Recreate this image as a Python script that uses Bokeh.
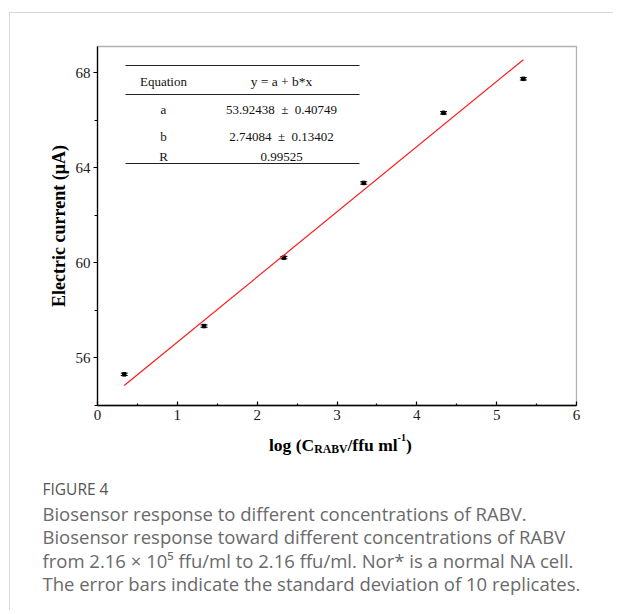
from bokeh.plotting import figure
from bokeh.models import (Label, PolyAnnotation, BoxAnnotation, FixedTicker, Whisker,
                          ColumnDataSource, TeeHead)
from bokeh.embed import file_html
from bokeh.resources import INLINE

# ---------------- data ----------------
log_conc = [0.3345, 1.3345, 2.3345, 3.3345, 4.3345, 5.3345]
current = [55.31, 57.34, 60.22, 63.36, 66.31, 67.74]
current_sd = [0.05, 0.05, 0.05, 0.05, 0.05, 0.05]

fit_a, fit_a_err = 53.92438, 0.40749
fit_b, fit_b_err = 2.74084, 0.13402
fit_r = 0.99525

x_ticks = [0, 1, 2, 3, 4, 5, 6]
y_ticks = [56, 60, 64, 68]
x_minor = [0.5, 1.5, 2.5, 3.5, 4.5, 5.5]
y_minor = [54, 58, 62, 66]
x_lim = (0, 6)
y_lim = (54, 69.1)

table_left = ["Equation", "a", "b", "R"]
table_right = ["y = a + b*x",
               f"{fit_a:.5f}\u2002\u00b1\u2002{fit_a_err:.5f}",
               f"{fit_b:.5f}\u2002\u00b1\u2002{fit_b_err:.5f}",
               f"{fit_r:.5f}"]

y_label = "Electric current (\u03bcA)"
x_label_parts = ["log (C", "RABV", "/ffu ml", "-1", ")"]

caption_title = "FIGURE 4"
caption_lines = [
    "Biosensor response to different concentrations of RABV.",
    "Biosensor response toward different concentrations of RABV",
    "from 2.16 \u00d7 10\u2075 ffu/ml to 2.16 ffu/ml. Nor* is a normal NA cell.",
    "The error bars indicate the standard deviation of 10 replicates.",
]

# ---------------- layout ----------------
W, H = 613, 610
BL, BR, BT, BB = 97, 576, 46, 405      # plot box in canvas px
KX = (x_lim[1] - x_lim[0]) / (BR - BL)
KY = (y_lim[1] - y_lim[0]) / (BB - BT)


def DX(px):  # canvas px -> data x
    return x_lim[0] + (px - BL) * KX


def DY(py):  # canvas px -> data y
    return y_lim[0] + (BB - py) * KY


p = figure(width=W, height=H, x_range=(DX(0), DX(W)), y_range=(DY(H), DY(0)),
           output_backend="svg", toolbar_location=None, min_border=0)
p.grid.visible = False
p.outline_line_color = None
p.background_fill_color = "white"
p.border_fill_color = "white"

# axes, pinned to the plot box
for ax in (p.xaxis[0], p.yaxis[0]):
    ax.axis_line_color = "black"
    ax.axis_line_width = 1.3
    ax.major_tick_line_color = "black"
    ax.minor_tick_line_color = "black"
    ax.major_tick_line_width = 1.2
    ax.minor_tick_line_width = 1.2
    ax.major_label_text_font = "Liberation Serif"
    ax.major_label_text_font_size = "15px"
    ax.major_label_text_color = "#1a1a1a"

p.xaxis.fixed_location = y_lim[0]
p.xaxis.bounds = x_lim
p.xaxis.ticker = FixedTicker(ticks=x_ticks, minor_ticks=x_minor)
p.xaxis.major_tick_in = 4
p.xaxis.major_tick_out = 0
p.xaxis.minor_tick_in = 2
p.xaxis.minor_tick_out = 0
p.xaxis.major_label_standoff = 4

p.yaxis.fixed_location = x_lim[0]
p.yaxis.bounds = y_lim
p.yaxis.ticker = FixedTicker(ticks=y_ticks, minor_ticks=y_minor)
p.yaxis.major_tick_in = 0
p.yaxis.major_tick_out = 4
p.yaxis.minor_tick_in = 0
p.yaxis.minor_tick_out = 3
p.yaxis.major_label_standoff = 3
p.yaxis.axis_label = y_label
p.yaxis.axis_label_text_font = "Liberation Serif"
p.yaxis.axis_label_text_font_style = "bold"
p.yaxis.axis_label_text_font_size = "18px"
p.yaxis.axis_label_text_color = "black"
p.yaxis.axis_label_standoff = 4

# plot box
p.add_layout(BoxAnnotation(left=x_lim[0], right=x_lim[1], bottom=y_lim[0], top=y_lim[1],
                           fill_alpha=0, line_color="black", line_width=1.3))

# data points with error bars
src = ColumnDataSource(dict(
    x=log_conc, y=current,
    upper=[c + s for c, s in zip(current, current_sd)],
    lower=[c - s for c, s in zip(current, current_sd)]))
p.add_layout(Whisker(source=src, base="x", upper="upper", lower="lower",
                     dimension="height", line_color="black", line_width=1,
                     upper_head=TeeHead(size=7, line_color="black", line_width=1),
                     lower_head=TeeHead(size=7, line_color="black", line_width=1)))
p.scatter("x", "y", source=src, marker="square", size=3.5,
          fill_color="black", line_color="black")

# linear fit line
fit_x = [log_conc[0], log_conc[-1]]
fit_y = [fit_a + fit_b * v for v in fit_x]
p.line(fit_x, fit_y, line_color="#ff1a1a", line_width=1.2)

# table inside plot
tx0, tx1 = DX(125), DX(359)
p.segment(x0=[tx0, tx0, tx0], x1=[tx1, tx1, tx1],
          y0=[DY(65), DY(94), DY(163)], y1=[DY(65), DY(94), DY(163)],
          line_color="#222222", line_width=1)
row_y = [81, 109, 136, 156]
for i, (ltxt, rtxt, ry) in enumerate(zip(table_left, table_right, row_y)):
    p.add_layout(Label(x=DX(163), y=DY(ry), text=ltxt, text_font="Liberation Serif",
                       text_font_size="13px", text_align="center",
                       text_baseline="middle", text_color="#111111"))
    p.add_layout(Label(x=DX(281), y=DY(ry), text=rtxt, text_font="Liberation Serif",
                       text_font_size="13.5px" if i == 0 else "13px", text_align="center",
                       text_baseline="middle", text_color="#111111"))

# x-axis label with subscript / superscript
xl_sizes = ["17.5px", "11.75px", "17.5px", "10px", "17.5px"]
xl_x = [268.5, 313.7, 347.0, 397.1, 405.6]
xl_base = [444, 449, 444, 437, 444]
for t, s, xx, yy in zip(x_label_parts, xl_sizes, xl_x, xl_base):
    p.add_layout(Label(x=DX(xx), y=DY(yy), text=t, text_font="Liberation Serif",
                       text_font_style="bold", text_font_size=s,
                       text_align="left", text_baseline="alphabetic",
                       text_color="black"))

# caption
CAP_X = 42
p.add_layout(Label(x=DX(CAP_X), y=DY(488), text=caption_title, text_font="Open Sans",
                   text_font_size="15.5px", text_color="#555555",
                   text_align="left", text_baseline="alphabetic"))
for i, line in enumerate(caption_lines):
    p.add_layout(Label(x=DX(CAP_X), y=DY(513 + 23.4 * i), text=line, text_font="Open Sans",
                       text_font_size="18.5px", text_color="#6a6a6a",
                       text_align="left", text_baseline="alphabetic"))

# outer card border (top and left edges visible)
p.add_layout(PolyAnnotation(xs=[DX(9), DX(3000), DX(3000), DX(9)],
                            ys=[DY(12), DY(12), DY(3000), DY(3000)],
                            fill_alpha=0, line_color="#7a7a7a", line_width=1))

open("out.html", "w").write(file_html(p, INLINE))
